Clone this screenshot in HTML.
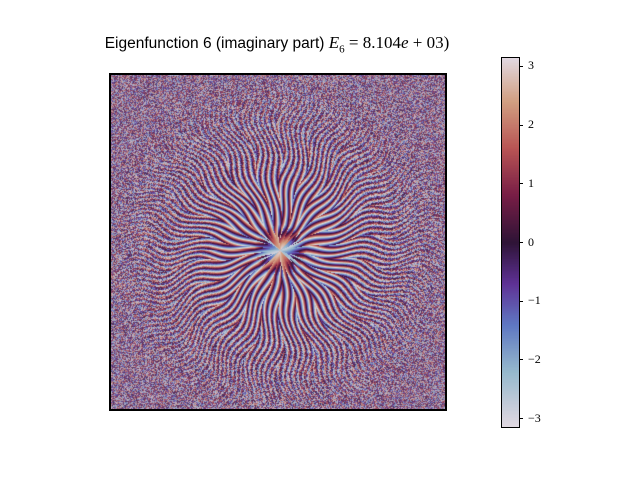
<!DOCTYPE html>
<html><head><meta charset="utf-8">
<style>
body{margin:0;background:#fff;}
#root{position:relative;width:640px;height:480px;background:#fff;font-family:"Liberation Serif",serif;}
#title{position:absolute;left:0;width:554px;top:33px;text-align:center;font-family:"Liberation Sans",sans-serif;font-size:15.5px;color:#000;white-space:nowrap;}
#title .m{font-family:"Liberation Serif",serif;font-size:17px;}
canvas{position:absolute;}
.tick{position:absolute;font-size:12px;color:#000;}
</style></head>
<body>
<div id="root">
<div id="title">Eigenfunction 6 (imaginary part) <span class="m"><i>E</i><sub style="font-size:11px">6</sub> = 8.104<i>e</i> + 03)</span></div>
<canvas id="hm" width="336" height="336" style="left:110px;top:74px;"></canvas>
<div style="position:absolute;left:109px;top:73px;width:334px;height:334px;border:2px solid #000;"></div>
<canvas id="cb" width="17" height="369" style="left:502px;top:58px;"></canvas>
<div style="position:absolute;left:501px;top:57px;width:17px;height:369px;border:1px solid #000;"></div>
<div id="ticks"></div>
</div>
<script>
const cbMin=-Math.PI, cbMax=Math.PI;
const tickVals=[3,2,1,0,-1,-2,-3];
const tickLabels=["3","2","1","0","\u22121","\u22122","\u22123"];
const cbStops=[[-3.1416,[226,217,226]],[-2.2,[150,185,205]],[-1.4,[95,120,195]],[-0.7,[95,50,150]],[0,[47,20,55]],[0.8,[120,30,70]],[1.6,[185,85,85]],[2.4,[210,160,130]],[3.1416,[226,217,226]]];
function cmap(v){
  for(let i=0;i<cbStops.length-1;i++){
    const a=cbStops[i],b=cbStops[i+1];
    if(v<=b[0]){const t=Math.max(0,(v-a[0])/(b[0]-a[0]));return a[1].map((c,k)=>c+(b[1][k]-c)*t);}
  }
  return cbStops[cbStops.length-1][1];
}
function hash(x,y){let h=(x*374761393+y*668265263)|0;h=(h^(h>>>13))*1274126177|0;return ((h^(h>>>16))>>>0)/4294967296;}
function wrap(a){a=(a+Math.PI)%(2*Math.PI);if(a<0)a+=2*Math.PI;return a-Math.PI;}
const hm=document.getElementById('hm'),ctx=hm.getContext('2d');
const img=ctx.createImageData(336,336);
const cx=170,cy=176;
const NS=22;
for(let y=0;y<336;y++)for(let x=0;x<336;x++){
  const dx=x-cx,dy=y-cy,r=Math.sqrt(dx*dx+dy*dy)+0.01;
  const th0=Math.atan2(dy,dx);
  let th=th0+0.04*Math.sin(r*0.1+3*th0);
  const sw=2*Math.PI/NS;
  const si=Math.round(th/sw), phi=th-si*sw;
  const k=1.3-0.6*Math.exp(-r/50);
  let ph=k*r*phi+si*1.7+0.6*Math.sin(0.08*r+si);
  const nz=Math.min(1,Math.max(0,(r-60)/130));
  ph+=nz*(hash(x,y)-0.5)*6.5;
  let v=wrap(ph);
  if(r<26){const t=Math.pow(r/26,1.5);const cv=(Math.cos(2*th0)>0?-2.6:2.8)+0.3*Math.sin(th0*4);v=v*t+(1-t)*cv;}
  let c=cmap(wrap(v));
  const m=0.35*nz;
  c=[c[0]*(1-m)+140*m,c[1]*(1-m)+110*m,c[2]*(1-m)+155*m];
  const i=(y*336+x)*4;img.data[i]=c[0];img.data[i+1]=c[1];img.data[i+2]=c[2];img.data[i+3]=255;
}
ctx.putImageData(img,0,0);
const cb=document.getElementById('cb'),cc=cb.getContext('2d');
const H=369;
function yOf(v){return (cbMax-v)/(cbMax-cbMin)*H;}
for(let y=0;y<H;y++){const v=cbMax-(y+0.5)/H*(cbMax-cbMin);const c=cmap(v);cc.fillStyle=`rgb(${c[0]|0},${c[1]|0},${c[2]|0})`;cc.fillRect(0,y,17,1);}
const tk=document.getElementById('ticks');
tickVals.forEach((v,i)=>{
  const y=58+yOf(v);
  const l=document.createElement('div');
  
  
  l.style.cssText=`position:absolute;left:519px;top:${y-0.5}px;width:4px;height:1px;background:#000;`;
  tk.appendChild(l);
  const t=document.createElement('div');
  t.className='tick';
  
  
  t.textContent=tickLabels[i];
  t.style.left='528px';t.style.top=(y-8)+'px';
  tk.appendChild(t);
});
</script>
</body></html>
